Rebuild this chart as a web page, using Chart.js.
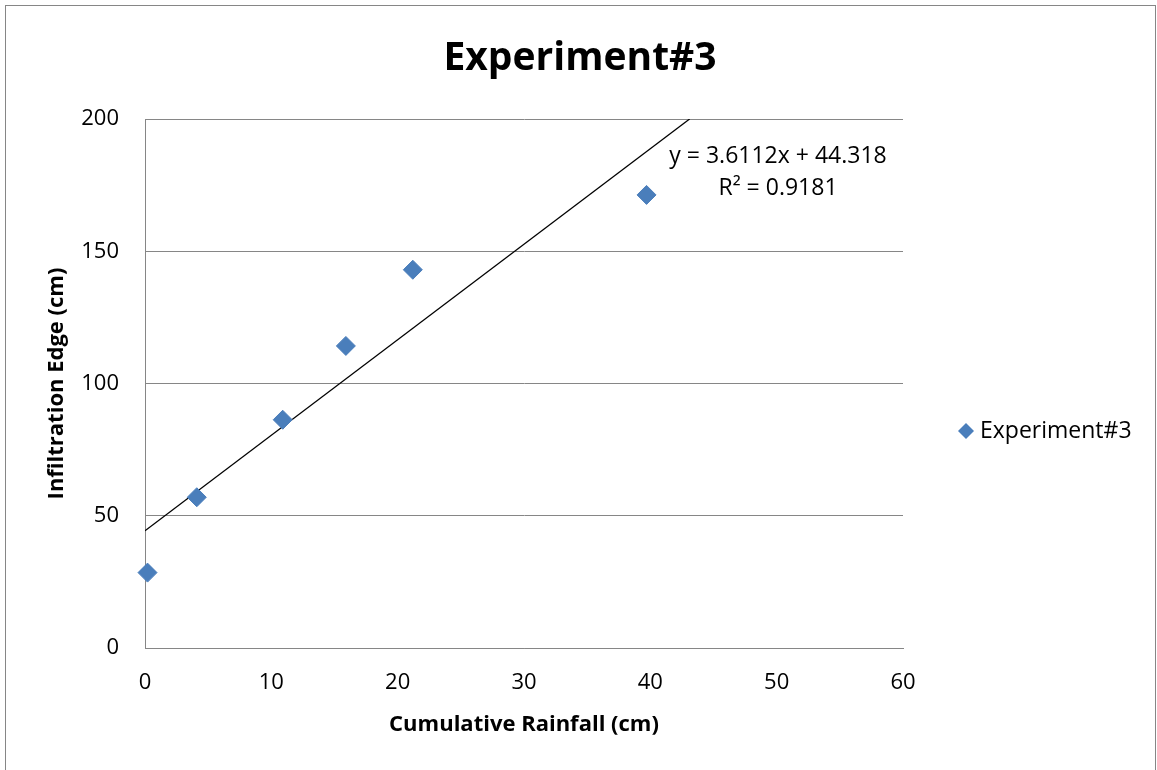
<!DOCTYPE html>
<html>
<head>
<meta charset="utf-8">
<script src="https://cdn.jsdelivr.net/npm/chart.js"></script>
<style>body{margin:0;background:#fff}</style>
</head>
<body>
<canvas id="chart" width="1157" height="770"></canvas>
<script>
// data
const rainfall = [0.2, 4.1, 10.9, 15.9, 21.2, 39.7];
const infiltration = [28.5, 57.0, 86.3, 114.2, 143.0, 171.3];
const seriesName = 'Experiment#3';
// linear trendline as printed on the chart
const slope = 3.6112;
const intercept = 44.318;
const rSquared = 0.9181;
const trendX = [0, 43.11];
const xTicks = [0, 10, 20, 30, 40, 50, 60];
const yTicks = [0, 50, 100, 150, 200];

const blue = '#4A7EBB';
const gray = '#868686';
const font = 'Open Sans';

const extras = {
    id: 'extras',
    afterDraw(chart) {
        const ctx = chart.ctx;
        ctx.save();
        ctx.strokeStyle = gray;
        ctx.lineWidth = 1;
        ctx.strokeRect(5.5, 5.5, 1150, 800);

        ctx.fillStyle = '#000';
        ctx.textBaseline = 'alphabetic';
        ctx.textAlign = 'center';
        ctx.font = 'bold 39px "' + font + '"';
        ctx.fillText(seriesName, 580, 70);

        ctx.font = '23px "' + font + '"';
        ctx.fillText('y = ' + slope + 'x + ' + intercept, 778, 163);
        ctx.fillText('R² = ' + rSquared, 778, 195);

        // legend
        ctx.fillStyle = blue;
        ctx.beginPath();
        ctx.moveTo(966, 423);
        ctx.lineTo(974, 431);
        ctx.lineTo(966, 439);
        ctx.lineTo(958, 431);
        ctx.closePath();
        ctx.fill();
        ctx.fillStyle = '#000';
        ctx.textAlign = 'left';
        ctx.fillText(seriesName, 980, 438);
        ctx.restore();
    }
};

const points = rainfall.map((x, i) => ({ x: x, y: infiltration[i] }));
const trend = trendX.map(x => ({ x: x, y: slope * x + intercept }));

new Chart(document.getElementById('chart'), {
    type: 'scatter',
    data: {
        datasets: [{
            label: seriesName,
            data: points,
            clip: false,
            pointStyle: 'rectRot',
            pointRadius: 9.5,
            pointHoverRadius: 9.5,
            backgroundColor: blue,
            borderColor: blue,
            borderWidth: 1
        }, {
            type: 'line',
            label: 'trend',
            data: trend,
            borderColor: '#000',
            borderWidth: 1.3,
            pointRadius: 0,
            fill: false
        }]
    },
    options: {
        responsive: false,
        animation: false,
        events: [],
        layout: { padding: { top: 119, right: 254, bottom: 0, left: 0 } },
        plugins: {
            legend: { display: false },
            title: { display: false },
            tooltip: { enabled: false }
        },
        scales: {
            x: {
                type: 'linear',
                min: 0,
                max: 60,
                afterBuildTicks: s => { s.ticks = xTicks.map(v => ({ value: v })); },
                afterFit: s => { s.height = 122; },
                grid: { display: false, drawTicks: false },
                border: { display: true, color: gray, width: 1 },
                ticks: { color: '#000', padding: 22, font: { family: font, size: 22 } },
                title: {
                    display: true,
                    text: 'Cumulative Rainfall (cm)',
                    color: '#000',
                    font: { family: font, size: 22, weight: 'bold' },
                    padding: { top: 0, bottom: 32 }
                }
            },
            y: {
                type: 'linear',
                min: 0,
                max: 200,
                afterBuildTicks: s => { s.ticks = yTicks.map(v => ({ value: v })); },
                afterFit: s => { s.width = 145; },
                grid: { color: gray, lineWidth: 1, drawTicks: false },
                border: { display: true, color: gray, width: 1 },
                ticks: { color: '#000', padding: 26, font: { family: font, size: 22 } },
                title: {
                    display: true,
                    text: 'Infiltration Edge (cm)',
                    color: '#000',
                    font: { family: font, size: 22, weight: 'bold' },
                    padding: { top: 44, bottom: 0 }
                }
            }
        }
    },
    plugins: [extras]
});
</script>
</body>
</html>
